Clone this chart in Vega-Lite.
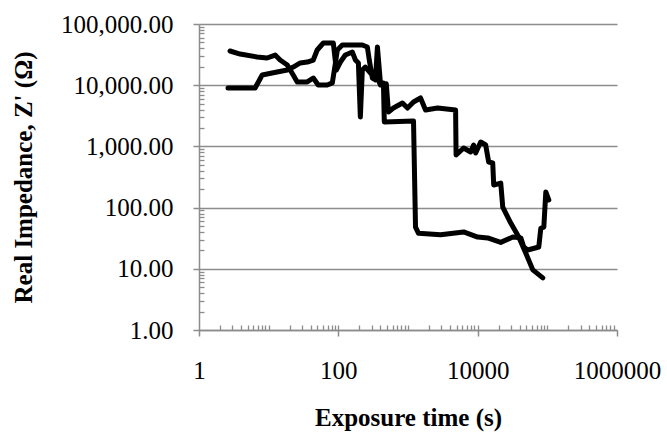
{
  "$schema": "https://vega.github.io/schema/vega-lite/v6.json",
  "width": 418,
  "height": 306,
  "autosize": {"type": "none"},
  "padding": {"left": 199, "top": 24, "right": 50, "bottom": 104},
  "config": {"view": {"stroke": null}, "font": "Liberation Serif"},
  "data": {"values": [
    {"s":"A","t":2.79,"z":36200},{"s":"A","t":3.89,"z":32300},{"s":"A","t":6.83,"z":28900},{"s":"A","t":9.5,"z":27800},
    {"s":"A","t":12.4,"z":31100},{"s":"A","t":14.6,"z":25800},{"s":"A","t":18.5,"z":21400},{"s":"A","t":22.5,"z":14700},
    {"s":"A","t":25.7,"z":11300},{"s":"A","t":35.8,"z":11300},{"s":"A","t":43.7,"z":13100},{"s":"A","t":51.4,"z":10080},
    {"s":"A","t":69.4,"z":10080},{"s":"A","t":82.0,"z":10900},{"s":"A","t":90.0,"z":21400},{"s":"A","t":96.8,"z":37600},
    {"s":"A","t":114,"z":45400},{"s":"A","t":159,"z":45400},{"s":"A","t":221,"z":45400},{"s":"A","t":261,"z":42100},
    {"s":"A","t":278,"z":25800},{"s":"A","t":308,"z":13100},{"s":"A","t":341,"z":12200},{"s":"A","t":364,"z":42100},
    {"s":"A","t":402,"z":10900},{"s":"A","t":444,"z":10900},{"s":"A","t":457,"z":2500},{"s":"A","t":1200,"z":2600},
    {"s":"A","t":1282,"z":48},{"s":"A","t":1416,"z":38},{"s":"A","t":2936,"z":36},{"s":"A","t":6290,"z":40},
    {"s":"A","t":10000,"z":33},{"s":"A","t":13930,"z":32},{"s":"A","t":21430,"z":27},{"s":"A","t":31900,"z":33},
    {"s":"A","t":41600,"z":32},{"s":"A","t":45900,"z":22.7},{"s":"A","t":52400,"z":20.3},{"s":"A","t":75400,"z":22.7},
    {"s":"A","t":80600,"z":46},{"s":"A","t":89100,"z":48},{"s":"A","t":95100,"z":180},{"s":"A","t":105100,"z":133},
    {"s":"B","t":2.61,"z":9000},{"s":"B","t":6.39,"z":9000},{"s":"B","t":8.07,"z":14700},{"s":"B","t":13.2,"z":16400},
    {"s":"B","t":18.5,"z":17700},{"s":"B","t":22.5,"z":19800},{"s":"B","t":28.4,"z":23100},{"s":"B","t":35.8,"z":23900},
    {"s":"B","t":43.7,"z":25800},{"s":"B","t":49.7,"z":37600},{"s":"B","t":60.9,"z":48900},{"s":"B","t":84.7,"z":48900},
    {"s":"B","t":93.6,"z":17700},{"s":"B","t":107,"z":23900},{"s":"B","t":126,"z":31100},{"s":"B","t":159,"z":34800},
    {"s":"B","t":176,"z":25800},{"s":"B","t":194,"z":23100},{"s":"B","t":207,"z":3020},{"s":"B","t":221,"z":17700},
    {"s":"B","t":244,"z":19800},{"s":"B","t":290,"z":15800},{"s":"B","t":350,"z":14700},{"s":"B","t":402,"z":10080},
    {"s":"B","t":488,"z":10500},{"s":"B","t":524,"z":3650},{"s":"B","t":618,"z":4240},{"s":"B","t":833,"z":5110},
    {"s":"B","t":984,"z":4240},{"s":"B","t":1200,"z":5310},{"s":"B","t":1513,"z":6180},{"s":"B","t":1786,"z":3930},
    {"s":"B","t":2657,"z":4240},{"s":"B","t":4823,"z":3930},{"s":"B","t":4900,"z":723},{"s":"B","t":6290,"z":942},
    {"s":"B","t":7925,"z":810},{"s":"B","t":8750,"z":1054},{"s":"B","t":9357,"z":780},{"s":"B","t":11050,"z":1180},
    {"s":"B","t":13030,"z":1054},{"s":"B","t":14390,"z":556},{"s":"B","t":16450,"z":536},{"s":"B","t":16990,"z":234},
    {"s":"B","t":21430,"z":252},{"s":"B","t":22910,"z":102},{"s":"B","t":29850,"z":56},{"s":"B","t":38900,"z":33},
    {"s":"B","t":49100,"z":18},{"s":"B","t":61860,"z":9.6},{"s":"B","t":86100,"z":7.1}
  ]},
  "layer": [
    {
      "mark": {"type": "line", "opacity": 0},
      "encoding": {
        "x": {"field": "t", "type": "quantitative",
          "scale": {"type": "log", "domain": [1, 1000000], "nice": false},
          "axis": {"orient": "bottom", "values": [2,3,4,5,6,7,8,9,10,20,30,40,50,60,70,80,90,100,200,300,400,500,600,700,800,900,1000,2000,3000,4000,5000,6000,7000,8000,9000,10000,20000,30000,40000,50000,60000,70000,80000,90000,100000,200000,300000,400000,500000,600000,700000,800000,900000],
            "labels": false, "domain": false, "grid": false, "tickSize": -5, "tickColor": "#8c8c8c", "tickWidth": 1.3, "title": null}},
        "y": {"field": "z", "type": "quantitative",
          "scale": {"type": "log", "domain": [1, 100000], "nice": false},
          "axis": {"orient": "left", "values": [2,3,4,5,6,7,8,9,20,30,40,50,60,70,80,90,200,300,400,500,600,700,800,900,2000,3000,4000,5000,6000,7000,8000,9000,20000,30000,40000,50000,60000,70000,80000,90000],
            "labels": false, "domain": false, "grid": false, "tickSize": -5, "tickColor": "#8c8c8c", "tickWidth": 1.3, "title": null}},
        "detail": {"field": "s"}
      }
    },
    {
      "mark": {"type": "line", "color": "black", "strokeWidth": 5, "strokeJoin": "round", "strokeCap": "round"},
      "encoding": {
        "x": {"field": "t", "type": "quantitative",
          "scale": {"type": "log", "domain": [1, 1000000], "nice": false},
          "axis": {"orient": "bottom", "values": [1, 100, 10000, 1000000], "format": "d", "labelFlush": false, "labelOverlap": false,
            "grid": false, "domainColor": "#8c8c8c", "domainWidth": 1.5, "tickColor": "#8c8c8c", "tickWidth": 1.5, "tickSize": 6,
            "labelFont": "Liberation Serif", "labelFontSize": 25, "labelColor": "black", "labelPadding": 22,
            "title": "Exposure time (s)", "titleFont": "Liberation Serif", "titleFontSize": 25, "titleFontWeight": "bold", "titleColor": "black",
            "titleX": 209, "titleY": 95, "titleBaseline": "alphabetic", "titleAlign": "center"}},
        "y": {"field": "z", "type": "quantitative",
          "scale": {"type": "log", "domain": [1, 100000], "nice": false},
          "axis": {"orient": "left", "values": [1, 10, 100, 1000, 10000, 100000], "format": ",.2f", "labelFlush": false, "labelOverlap": false,
            "grid": true, "gridColor": "#8c8c8c", "gridWidth": 1.5, "domainColor": "#8c8c8c", "domainWidth": 1.5, "tickColor": "#8c8c8c", "tickWidth": 1.5, "tickSize": 6,
            "labelFont": "Liberation Serif", "labelFontSize": 25, "labelColor": "black", "labelPadding": 20,
            "title": "Real Impedance, Z' (Ω)", "titleFont": "Liberation Serif", "titleFontSize": 25, "titleFontWeight": "bold", "titleColor": "black",
            "titleX": -176, "titleY": 153, "titleAngle": -90, "titleBaseline": "middle", "titleAlign": "center"}},
        "detail": {"field": "s"}
      }
    }
  ],
  "resolve": {"scale": {"x": "independent", "y": "independent"}, "axis": {"x": "independent", "y": "independent"}}
}
